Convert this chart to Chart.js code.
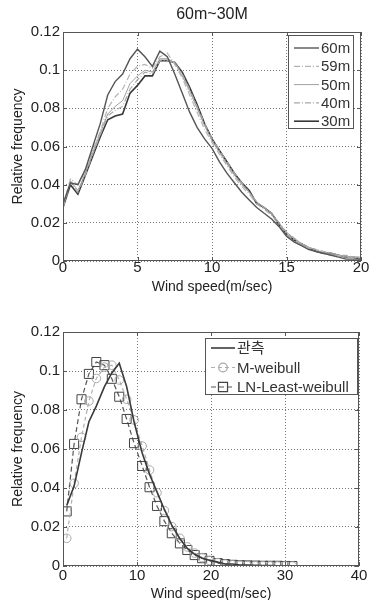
<!DOCTYPE html>
<html>
<head>
<meta charset="utf-8">
<script src="https://cdn.jsdelivr.net/npm/chart.js@4"></script>
<style>
  body { margin: 0; background: #fff; overflow: hidden; }
  canvas { display: block; }
</style>
</head>
<body>
<canvas id="topChart" width="371" height="300"></canvas>
<canvas id="bottomChart" width="371" height="300"></canvas>
<script>
// ---- data: top chart (wind speed bins, m/sec) ----
var speeds = [0, 0.5, 1, 1.5, 2, 2.5, 3, 3.5, 4, 4.5, 5, 5.5, 6, 6.5, 7, 7.5, 8, 8.5, 9, 9.5, 10,
  10.5, 11, 11.5, 12, 12.5, 13, 13.5, 14, 14.5, 15, 15.5, 16, 16.5, 17, 17.5, 18, 18.5, 19, 19.5, 20];
var heightLabels = ['60m', '59m', '50m', '40m', '30m'];
var freq60 = [0.030, 0.041, 0.040, 0.048, 0.060, 0.072, 0.087, 0.094, 0.098, 0.106, 0.111, 0.107, 0.102, 0.110, 0.107,
  0.098, 0.088, 0.078, 0.070, 0.064, 0.059, 0.052, 0.046, 0.041, 0.036, 0.032, 0.028, 0.025, 0.022, 0.018,
  0.013, 0.010, 0.008, 0.006, 0.005, 0.004, 0.003, 0.002, 0.001, 0.001, 0.001];
var freq59 = [0.029, 0.043, 0.040, 0.047, 0.058, 0.068, 0.080, 0.086, 0.090, 0.098, 0.102, 0.103, 0.101, 0.107, 0.109,
  0.103, 0.096, 0.087, 0.078, 0.069, 0.062, 0.056, 0.050, 0.044, 0.039, 0.035, 0.030, 0.027, 0.024, 0.019,
  0.014, 0.011, 0.009, 0.007, 0.005, 0.004, 0.003, 0.003, 0.002, 0.002, 0.001];
var freq50 = [0.028, 0.042, 0.037, 0.046, 0.057, 0.067, 0.077, 0.081, 0.084, 0.093, 0.097, 0.100, 0.099, 0.106, 0.106,
  0.104, 0.097, 0.089, 0.080, 0.071, 0.063, 0.057, 0.051, 0.045, 0.040, 0.036, 0.031, 0.028, 0.025, 0.020,
  0.015, 0.012, 0.009, 0.007, 0.006, 0.004, 0.004, 0.003, 0.002, 0.002, 0.002];
var freq40 = [0.028, 0.041, 0.036, 0.045, 0.056, 0.066, 0.076, 0.079, 0.081, 0.090, 0.095, 0.099, 0.098, 0.105, 0.105,
  0.104, 0.098, 0.090, 0.081, 0.072, 0.064, 0.058, 0.052, 0.046, 0.041, 0.036, 0.031, 0.028, 0.025, 0.020,
  0.015, 0.012, 0.009, 0.007, 0.006, 0.005, 0.004, 0.003, 0.003, 0.002, 0.002];
var freq30 = [0.028, 0.040, 0.035, 0.045, 0.055, 0.065, 0.074, 0.076, 0.077, 0.088, 0.092, 0.097, 0.097, 0.105, 0.105,
  0.104, 0.099, 0.091, 0.082, 0.072, 0.064, 0.058, 0.052, 0.046, 0.041, 0.037, 0.030, 0.028, 0.025, 0.019,
  0.014, 0.011, 0.009, 0.007, 0.005, 0.004, 0.004, 0.003, 0.002, 0.002, 0.001];

// ---- data: bottom chart ----
var binCenters = [0.5, 1.5, 2.5, 3.5, 4.5, 5.6, 6.6, 7.6, 8.6, 9.6, 10.7, 11.7, 12.7, 13.7, 14.7, 15.8,
  16.8, 17.8, 18.8, 19.8, 20.9, 21.9, 22.9, 23.9, 24.9, 26.0, 27.0, 28.0, 29.0, 30.0, 31.0];
var fitLabels = ['관측', 'M-weibull', 'LN-Least-weibull'];
var observed = [0.031, 0.041, 0.058, 0.074, 0.082, 0.092, 0.099, 0.104, 0.092, 0.074, 0.058, 0.047, 0.038, 0.029,
  0.021, 0.014, 0.009, 0.006, 0.004, 0.003, 0.002, 0.001, 0.001, 0.0005, 0.0005, 0.0003, 0.0002, 0.0002,
  0.0001, 0.0001, 0];
var mWeibull = [0.0142, 0.0424, 0.066, 0.0846, 0.0962, 0.102, 0.103, 0.0954, 0.0855, 0.0749, 0.0615, 0.0492,
  0.0376, 0.0284, 0.0202, 0.0142, 0.0098, 0.0066, 0.0043, 0.0028, 0.0017, 0.001, 0.0006, 0.0004, 0.0002,
  0.0001, 0.0001, 0, 0, 0, 0];
var lnWeibull = [0.028, 0.0626, 0.0855, 0.0985, 0.1046, 0.103, 0.096, 0.0868, 0.0754, 0.063, 0.0513, 0.0404,
  0.0308, 0.023, 0.0168, 0.0116, 0.0082, 0.0056, 0.004, 0.0026, 0.0015, 0.001, 0.0006, 0.0004, 0.0003,
  0.0002, 0.0001, 0.0001, 0.0001, 0, 0];

var yTickLabels = ['0', '0.02', '0.04', '0.06', '0.08', '0.1', '0.12'];

function pairs(xs, ys) {
  return xs.map(function (x, i) { return { x: x, y: ys[i] }; });
}

var FONT = '"Liberation Sans", Arial, "Noto Sans CJK KR", sans-serif';
var FRAME = '#555';

// MATLAB style box, inner ticks, title and in-plot legend
var matlabFrame = {
  id: 'matlabFrame',
  afterDraw: function (chart, args, opts) {
    var ctx = chart.ctx, a = chart.chartArea;
    var xs = chart.scales.x, ys = chart.scales.y;
    ctx.save();
    ctx.strokeStyle = FRAME;
    ctx.lineWidth = 1;
    ctx.setLineDash([]);
    ctx.strokeRect(a.left + 0.5, a.top + 0.5, a.right - a.left - 1, a.bottom - a.top - 1);
    ctx.beginPath();
    xs.ticks.forEach(function (t) {
      var px = Math.round(xs.getPixelForValue(t.value)) + 0.5;
      ctx.moveTo(px, a.bottom); ctx.lineTo(px, a.bottom - 4);
      ctx.moveTo(px, a.top); ctx.lineTo(px, a.top + 4);
    });
    ys.ticks.forEach(function (t) {
      var py = Math.round(ys.getPixelForValue(t.value)) + 0.5;
      ctx.moveTo(a.left, py); ctx.lineTo(a.left + 4, py);
      ctx.moveTo(a.right, py); ctx.lineTo(a.right - 4, py);
    });
    ctx.stroke();

    if (opts.title) {
      ctx.fillStyle = '#222';
      ctx.font = '16px ' + FONT;
      ctx.textAlign = 'center';
      ctx.textBaseline = 'middle';
      ctx.fillText(opts.title, (a.left + a.right) / 2, opts.titleY);
    }

    var L = opts.legend;
    ctx.fillStyle = '#fff';
    ctx.fillRect(L.x, L.y, L.w, L.h);
    ctx.strokeStyle = FRAME;
    ctx.lineWidth = 1;
    ctx.strokeRect(L.x + 0.5, L.y + 0.5, L.w, L.h);
    ctx.font = '15px ' + FONT;
    ctx.textAlign = 'left';
    ctx.textBaseline = 'middle';
    chart.data.datasets.forEach(function (ds, i) {
      var cy = L.y + L.first + i * L.step;
      var x0 = L.x + 6, x1 = x0 + L.line;
      ctx.strokeStyle = ds.borderColor;
      ctx.lineWidth = ds.borderWidth;
      ctx.setLineDash(ds.borderDash || []);
      ctx.beginPath();
      ctx.moveTo(x0, cy); ctx.lineTo(x1, cy);
      ctx.stroke();
      ctx.setLineDash([]);
      if (ds.pointRadius) {
        ctx.strokeStyle = ds.pointBorderColor;
        ctx.fillStyle = 'rgba(0,0,0,0)';
        Chart.helpers.drawPoint(ctx, { pointStyle: ds.pointStyle, radius: ds.pointRadius, rotation: 0, borderWidth: 1 },
          (x0 + x1) / 2, cy);
      }
      ctx.fillStyle = '#333';
      ctx.fillText(ds.label, x1 + 2, cy + 1);
    });
    ctx.restore();
  }
};

function axes(xMax, xStep, xPad, xAxisH, xTitlePadBottom) {
  return {
    x: {
      type: 'linear', min: 0, max: xMax,
      afterFit: function (s) { s.height = xAxisH; },
      ticks: { stepSize: xStep, autoSkip: false, padding: xPad, color: '#222', font: { size: 15, family: FONT } },
      grid: { color: '#777', borderDash: [1, 2], drawTicks: false, lineWidth: 1 },
      border: { display: false, dash: [1, 2] },
      title: { display: true, text: 'Wind speed(m/sec)', color: '#222', font: { size: 14, family: FONT },
        padding: { top: 0, bottom: xTitlePadBottom } }
    },
    y: {
      min: 0, max: 0.12,
      afterFit: function (s) { s.width = 63; },
      ticks: { stepSize: 0.02, autoSkip: false, padding: 3, color: '#222', font: { size: 15, family: FONT },
        callback: function (v, i) { return yTickLabels[i]; } },
      grid: { color: '#777', borderDash: [1, 2], drawTicks: false, lineWidth: 1 },
      border: { display: false, dash: [1, 2] },
      title: { display: true, text: 'Relative frequency', color: '#222', font: { size: 14, family: FONT },
        padding: { top: 10, bottom: 0 } }
    }
  };
}

var lineBase = { fill: false, tension: 0, pointRadius: 0, pointHoverRadius: 0 };

function topSet(label, data, color, width, dash) {
  return Object.assign({}, lineBase, {
    label: label, data: pairs(speeds, data), borderColor: color, borderWidth: width, borderDash: dash
  });
}

new Chart(document.getElementById('topChart'), {
  type: 'line',
  data: {
    datasets: [
      topSet(heightLabels[0], freq60, '#555', 1.4, []),
      topSet(heightLabels[1], freq59, '#b4b4b4', 1.2, [6, 2, 1, 2]),
      topSet(heightLabels[2], freq50, '#a0a0a0', 1, []),
      topSet(heightLabels[3], freq40, '#a8a8a8', 1.2, [6, 2, 1, 2]),
      topSet(heightLabels[4], freq30, '#383838', 1.6, [])
    ]
  },
  options: {
    responsive: false,
    animation: false,
    layout: { padding: { top: 32, right: 10, left: 0, bottom: 0 } },
    scales: axes(20, 5, -2, 39, 4),
    plugins: {
      legend: { display: false },
      tooltip: { enabled: false },
      matlabFrame: {
        title: '60m~30M', titleY: 15,
        legend: { x: 288, y: 35, w: 65, h: 93, first: 13, step: 18.3, line: 25 }
      }
    }
  },
  plugins: [matlabFrame]
});

new Chart(document.getElementById('bottomChart'), {
  type: 'line',
  data: {
    datasets: [
      Object.assign({}, lineBase, {
        label: fitLabels[0], data: pairs(binCenters, observed), borderColor: '#3a3a3a', borderWidth: 1.6, borderDash: []
      }),
      Object.assign({}, lineBase, {
        label: fitLabels[1], data: pairs(binCenters, mWeibull), borderColor: '#b0b0b0', borderWidth: 1.2,
        borderDash: [4, 3], pointStyle: 'circle', pointRadius: 4.3, pointBorderColor: '#a8a8a8',
        pointBackgroundColor: 'rgba(0,0,0,0)', pointBorderWidth: 1
      }),
      Object.assign({}, lineBase, {
        label: fitLabels[2], data: pairs(binCenters, lnWeibull), borderColor: '#555', borderWidth: 1.2,
        borderDash: [5, 3], pointStyle: 'rect', pointRadius: 6.4, pointBorderColor: '#444',
        pointBackgroundColor: 'rgba(0,0,0,0)', pointBorderWidth: 1
      })
    ]
  },
  options: {
    responsive: false,
    animation: false,
    layout: { padding: { top: 32, right: 12, left: 0, bottom: 0 } },
    scales: axes(40, 10, 1, 34, -3),
    plugins: {
      legend: { display: false },
      tooltip: { enabled: false },
      matlabFrame: {
        legend: { x: 205, y: 38, w: 152, h: 56, first: 10, step: 19.5, line: 24 }
      }
    }
  },
  plugins: [matlabFrame]
});
</script>
</body>
</html>
